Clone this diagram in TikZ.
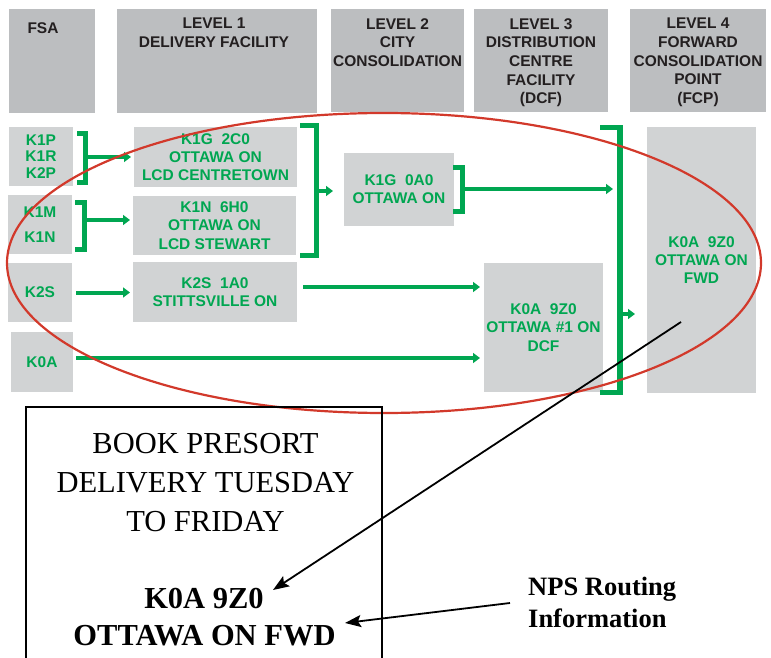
\documentclass[tikz,border=0pt]{standalone}
\usepackage{fontspec}
\setmainfont{Liberation Serif}
\setsansfont{Liberation Sans}
\usetikzlibrary{arrows.meta,calc}
\definecolor{hdrgray}{HTML}{BCBEC0}
\definecolor{boxgray}{HTML}{D1D3D4}
\definecolor{pgreen}{HTML}{00A651}
\definecolor{hdrtext}{HTML}{231F20}
\definecolor{ered}{HTML}{D2392B}
\begin{document}
\begin{tikzpicture}[x=1pt,y=-1pt,
 hdr/.style={fill=hdrgray, draw=none, inner sep=0pt, outer sep=0pt},
 hdrtxt/.style={font=\sffamily\bfseries\fontsize{15.5}{18.7}\selectfont, text=hdrtext, align=center, inner sep=0pt, anchor=north},
 gbox/.style={fill=boxgray, draw=none, inner sep=0pt, outer sep=0pt, font=\sffamily\bfseries\fontsize{15.5}{18.3}\selectfont, text=pgreen, align=center},
 brk/.style={draw=pgreen, line width=5pt},
 garrow/.style={draw=pgreen, line width=4pt, -{Triangle[length=7pt,width=10pt]}},
 blarrow/.style={draw=black, line width=1.8pt, -{Stealth[length=16pt,width=12pt,inset=3pt]}},
 serifline/.style={font=\fontsize{30.5}{38}\selectfont, inner sep=0pt, anchor=base},
 seriflineb/.style={font=\bfseries\fontsize{30.5}{38}\selectfont, inner sep=0pt, anchor=base},
 npsline/.style={font=\bfseries\fontsize{26.5}{32}\selectfont, inner sep=0pt, anchor=base west},
]
\useasboundingbox (0,0) rectangle (771,658);
\clip (0,0) rectangle (771,658);

% header boxes
\node[hdr, minimum width=86, minimum height=104] (hfsa) at (52,61) {};
\node[hdrtxt] (hfsat) at (43,22) {FSA};
\node[hdr, minimum width=200, minimum height=104] (h1) at (217,61) {};
\node[hdrtxt] (h1t) at (214,18) {LEVEL 1\\DELIVERY FACILITY};
\node[hdr, minimum width=133, minimum height=103] (h2) at (397.5,60.5) {};
\node[hdrtxt] (h2t) at (397.5,18) {LEVEL 2\\CITY\\CONSOLIDATION};
\node[hdr, minimum width=134, minimum height=103] (h3) at (541,60.5) {};
\node[hdrtxt] (h3t) at (541,18) {LEVEL 3\\DISTRIBUTION\\CENTRE\\FACILITY\\(DCF)};
\node[hdr, minimum width=136, minimum height=103] (h4) at (698,60.5) {};
\node[hdrtxt] (h4t) at (698,18) {LEVEL 4\\FORWARD\\CONSOLIDATION\\POINT\\(FCP)};

% FSA boxes
\node[gbox, minimum width=64, minimum height=59, font=\sffamily\bfseries\fontsize{15.5}{16.5}\selectfont] (r1) at (41,156.5) {K1P\\K1R\\K2P};
\node[gbox, minimum width=64, minimum height=59, font=\sffamily\bfseries\fontsize{15.5}{25}\selectfont] (r2) at (40,224.5) {K1M\\K1N};
\node[gbox, minimum width=64, minimum height=59] (r3) at (40,292.5) {K2S};
\node[gbox, minimum width=62, minimum height=60] (r4) at (42,362) {K0A};

% level boxes
\node[gbox, minimum width=163, minimum height=60] (l1a) at (215.5,157) {K1G\ \ 2C0\\OTTAWA ON\\LCD CENTRETOWN};
\node[gbox, minimum width=163, minimum height=59] (l1b) at (214.5,225.5) {K1N\ \ 6H0\\OTTAWA ON\\LCD STEWART};
\node[gbox, minimum width=164, minimum height=60] (l1c) at (215,292) {K2S\ \ 1A0\\STITTSVILLE ON};
\node[gbox, minimum width=110, minimum height=73] (l2) at (399,189.5) {K1G\ \ 0A0\\OTTAWA ON};
\node[gbox, minimum width=119, minimum height=129] (l3) at (543.5,327.5) {K0A\ \ 9Z0\\OTTAWA \#1 ON\\DCF};
\node[gbox, minimum width=109, minimum height=266] (l4) at (701.5,260) {K0A\ \ 9Z0\\OTTAWA ON\\FWD};

% brackets
\coordinate (b1a) at (77,134); \coordinate (b1b) at (85.5,134);
\coordinate (b1c) at (85.5,182); \coordinate (b1d) at (77,182);
\coordinate (b1m) at (85.5,157);
\draw[brk] (b1a) -- (b1b) -- (b1c) -- (b1d);
\coordinate (b2a) at (75,202); \coordinate (b2b) at (84,202);
\coordinate (b2c) at (84,249); \coordinate (b2d) at (75,249);
\coordinate (b2m) at (84,220);
\draw[brk] (b2a) -- (b2b) -- (b2c) -- (b2d);
\coordinate (b3a) at (300,125.5); \coordinate (b3b) at (316.5,125.5);
\coordinate (b3c) at (316.5,255.5); \coordinate (b3d) at (300,255.5);
\coordinate (b3m) at (316.5,191);
\draw[brk] (b3a) -- (b3b) -- (b3c) -- (b3d);
\coordinate (b4a) at (453,167.5); \coordinate (b4b) at (462,167.5);
\coordinate (b4c) at (462,211.5); \coordinate (b4d) at (453,211.5);
\coordinate (b4m) at (462,189);
\draw[brk] (b4a) -- (b4b) -- (b4c) -- (b4d);
\coordinate (b5a) at (600,127.5); \coordinate (b5b) at (620,127.5);
\coordinate (b5c) at (620,392.5); \coordinate (b5d) at (600,392.5);
\coordinate (b5m) at (620,314);
\draw[brk, line width=5.5pt] (b5a) -- (b5b) -- (b5c) -- (b5d);

% green arrows
\draw[garrow, shorten >=3pt] (b1m) -- (b1m -| l1a.west);
\draw[garrow, shorten >=3pt] (b2m) -- (b2m -| l1b.west);
\draw[garrow, shorten <=4pt, shorten >=3pt] (r3.east) -- (r3.east -| l1c.west);
\draw[garrow, shorten <=3pt, shorten >=4pt] ([yshift=4pt]r4.east) -- ([yshift=4pt]r4.east -| l3.west);
\draw[garrow, shorten <=6pt, shorten >=4pt] ([yshift=5pt]l1c.east) -- ([yshift=5pt]l1c.east -| l3.west);
\draw[garrow, shorten >=11pt] (b3m) -- (b3m -| l2.west);
\draw[garrow, shorten >=7pt] (b4m) -- (b4m -| b5b);
\draw[garrow, shorten >=12pt] (b5m) -- (b5m -| l4.west);

% red ellipse
\draw[ered, line width=2.2pt] (384,263) ellipse [x radius=377, y radius=150];

% book label
\node[draw=black, line width=1.5pt, minimum width=356, minimum height=280, anchor=north west, inner sep=0pt] (book) at (25,406) {};
\node[serifline] (bk1) at (205.5,453) {BOOK PRESORT};
\node[serifline] (bk2) at (205.5,492.5) {DELIVERY TUESDAY};
\node[serifline] (bk3) at (205.5,531) {TO FRIDAY};
\node[seriflineb] (bk4) at (204,608) {K0A 9Z0};
\node[seriflineb] (bk5) at (204.5,645) {OTTAWA ON FWD};

\node[npsline] (nps1) at (528,595) {NPS Routing};
\node[npsline] (nps2) at (528,627) {Information};

% black arrows
\coordinate (fwdpt) at (681,322);
\coordinate (tip1) at (273,590);
\coordinate (npsstart) at (510,603);
\coordinate (tip2) at (345,623);
\draw[blarrow] (fwdpt) -- (tip1);
\draw[blarrow] (npsstart) -- (tip2);
\end{tikzpicture}
\end{document}
